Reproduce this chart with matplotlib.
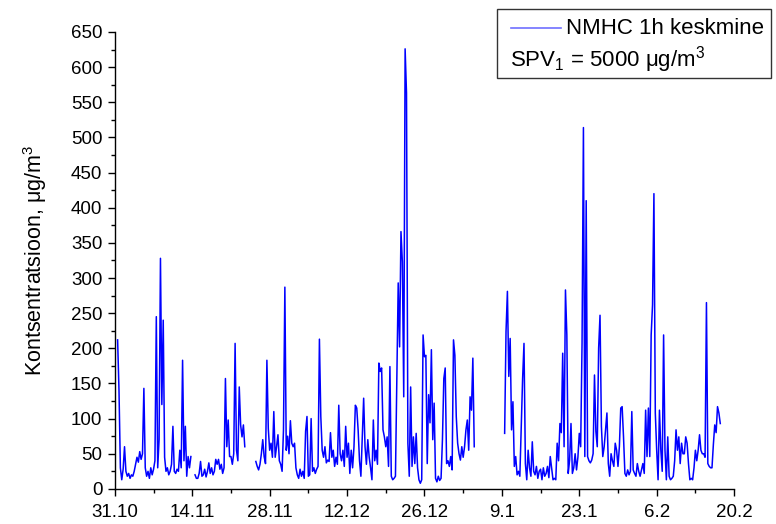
import numpy as np
import pandas as pd
import matplotlib
matplotlib.use("Agg")
import matplotlib.pyplot as plt
import matplotlib.dates as mdates
from matplotlib.lines import Line2D
from matplotlib.patches import Rectangle

plt.rcParams['font.family'] = ['Liberation Sans', 'DejaVu Sans']

nan = np.nan
# NMHC 1h average, sampled every 6 hours from 31.10 00:00 (one row = one day)
series_start = '2010-10-31 00:00'
nmhc = [
    nan, nan, 212, 140,   # 31.10
    30, 13, 28, 60,
    25, 18, 22, 15,
    20, 18, 25, 35,
    45, 38, 53, 42,
    50, 143, 30, 18,
    25, 15, 30, 20,
    28, 40, 245, 30,      # 7.11
    70, 328, 120, 240,
    45, 25, 30, 20,
    25, 35, 89, 25,
    22, 28, 25, 55,
    30, 183, 40, 89,
    18, 46, 30, 46,
    nan, nan, 20, 15,     # 14.11
    15, 22, 39, 18,
    20, 28, 17, 25,
    37, 22, 30, 20,
    25, 42, 35, 42,
    28, 35, 22, 30,
    157, 60, 98, 46,
    46, 35, 50, 207,      # 21.11
    55, 40, 145, 91,
    74, 91, 60, nan,
    nan, nan, nan, nan,
    nan, nan, 39, 32,
    27, 35, 50, 70,
    46, 36, 183, 86,
    55, 65, 45, 110,      # 28.11
    45, 60, 77, 40,
    35, 25, 84, 287,
    55, 75, 50, 97,
    65, 60, 65, 30,
    20, 15, 28, 18,
    25, 15, 82, 103,
    18, 20, 100, 25,      # 5.12
    30, 22, 28, 32,
    213, 103, 55, 45,
    60, 37, 41, 39,
    80, 45, 55, 32,
    45, 35, 119, 50,
    40, 55, 32, 89,
    45, 65, 22, 55,       # 12.12
    30, 60, 119, 115,
    84, 40, 18, 74,
    129, 60, 35, 70,
    45, 30, 13, 98,
    40, 55, 35, 179,
    167, 172, 84, 74,
    60, 74, 32, 174,      # 19.12
    18, 13, 15, 18,
    157, 293, 202, 366,
    323, 131, 626, 563,
    65, 18, 145, 32,
    74, 36, 79, 30,
    13, 8, 13, 219,
    188, 190, 36, 134,    # 26.12
    94, 198, 70, 122,
    15, 10, 18, 12,
    15, 70, 157, 172,
    36, 40, 32, 46,
    27, 212, 190, 103,
    65, 50, 41, 60,
    45, 60, 84, 98,       # 2.1
    55, 131, 112, 186,
    60, nan, nan, nan,
    nan, nan, nan, nan,
    nan, nan, nan, nan,
    nan, nan, nan, nan,
    nan, nan, nan, nan,
    nan, nan, 79, 224,    # 9.1
    281, 160, 214, 84,
    124, 32, 46, 20,
    25, 18, 88, 157,
    207, 36, 13, 55,
    30, 18, 67, 25,
    20, 32, 15, 25,
    28, 13, 30, 18,       # 16.1
    22, 32, 16, 46,
    30, 13, 15, 13,
    65, 40, 93, 80,
    193, 60, 283, 219,
    22, 41, 93, 22,
    30, 50, 27, 45,
    79, 60, 207, 514,     # 23.1
    46, 410, 46, 40,
    37, 41, 50, 162,
    82, 60, 200, 247,
    89, 46, 60, 84,
    108, 36, 18, 50,
    40, 32, 65, 55,
    32, 60, 115, 117,     # 30.1
    74, 22, 18, 27,
    20, 25, 110, 27,
    22, 18, 36, 25,
    18, 27, 36, 22,
    112, 46, 115, 46,
    219, 262, 420, 108,
    55, 13, 112, 55,      # 6.2
    25, 219, 55, 13,
    74, 18, 13, 15,
    18, 40, 84, 55,
    74, 36, 65, 50,
    50, 74, 65, 36,
    13, 15, 13, 30,
    55, 40, 55, 77,       # 13.2
    55, 50, 50, 45,
    265, 36, 32, 30,
    30, 63, 91, 80,
    117, 108, 93, nan,
]

tick_dates = ['2010-10-31', '2010-11-14', '2010-11-28', '2010-12-12', '2010-12-26',
              '2011-01-09', '2011-01-23', '2011-02-06', '2011-02-20']
tick_labels = ['31.10', '14.11', '28.11', '12.12', '26.12', '9.1', '23.1', '6.2', '20.2']
y_ticks = list(range(0, 651, 50))
legend_label = 'NMHC 1h keskmine'
limit_label = r'SPV$_{\mathregular{1}}$ = 5000 $\mathregular{\mu}$g/m$^{\mathregular{3}}$'
y_label = r'Kontsentratsioon, $\mathregular{\mu}$g/m$^{\mathregular{3}}$'

times = pd.date_range(series_start, periods=len(nmhc), freq='6h')
tick_pos = mdates.date2num(pd.to_datetime(tick_dates))

fig = plt.figure(figsize=(7.76, 5.24), dpi=100)
ax = fig.add_axes([0.148, 0.067, 0.798, 0.872])
ax.plot(times, nmhc, color='#0000ff', lw=1.1)

ax.set_xlim(tick_pos[0], tick_pos[-1])
ax.set_ylim(0, 650)
ax.set_xticks(tick_pos)
ax.set_xticklabels(tick_labels)
ax.set_xticks((tick_pos[:-1] + tick_pos[1:]) / 2, minor=True)
ax.set_yticks(y_ticks)
ax.set_yticks(np.arange(25, 650, 50), minor=True)
ax.tick_params(axis='both', which='major', direction='out', length=5, width=1,
               labelsize=13.5, pad=4)
ax.tick_params(axis='x', which='major', pad=6)
ax.tick_params(axis='both', which='minor', direction='out', length=3, width=1)
for s in ['top', 'right']:
    ax.spines[s].set_visible(False)
for s in ['left', 'bottom']:
    ax.spines[s].set_linewidth(1)
ax.set_ylabel(y_label, fontsize=15.5, labelpad=16)

# legend box (extends beyond the axes, as in the original)
W, H = 776, 524
fig.patches.append(Rectangle((497 / W, 1 - 78 / H), (771 - 497) / W, (78 - 9) / H,
                             transform=fig.transFigure, fill=False, ec='#333333', lw=1))
fig.lines.append(Line2D([511 / W, 561 / W], [1 - 28 / H, 1 - 28 / H],
                        transform=fig.transFigure, color='#6f6fff', lw=1.2))
fig.text(566 / W, 1 - 28 / H, legend_label, fontsize=16, va='center', ha='left')
fig.text(510 / W, 1 - 60 / H, limit_label, fontsize=16, va='center', ha='left')

fig.savefig('out.png', dpi=100)
